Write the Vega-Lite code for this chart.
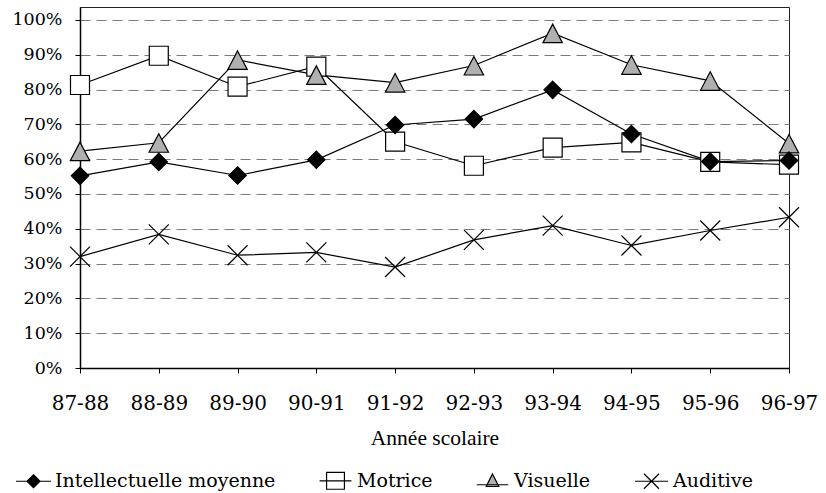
{
  "$schema": "https://vega.github.io/schema/vega-lite/v6.json",
  "width": 709,
  "height": 361,
  "autosize": "none",
  "padding": {"left": 80, "top": 7, "right": 37, "bottom": 125},
  "background": "white",
  "config": {
    "view": {"stroke": "#222222", "strokeWidth": 1},
    "font": "DejaVu Serif",
    "axis": {"labelFont": "DejaVu Serif", "titleFont": "Liberation Serif", "labelColor": "black", "titleColor": "black"},
    "legend": {"labelFont": "DejaVu Serif"}
  },
  "data": {
    "values": [
      {"annee": "87-88", "serie": "Intellectuelle moyenne", "pct": 0.552},
      {"annee": "88-89", "serie": "Intellectuelle moyenne", "pct": 0.592},
      {"annee": "89-90", "serie": "Intellectuelle moyenne", "pct": 0.553},
      {"annee": "90-91", "serie": "Intellectuelle moyenne", "pct": 0.598},
      {"annee": "91-92", "serie": "Intellectuelle moyenne", "pct": 0.698},
      {"annee": "92-93", "serie": "Intellectuelle moyenne", "pct": 0.715},
      {"annee": "93-94", "serie": "Intellectuelle moyenne", "pct": 0.799},
      {"annee": "94-95", "serie": "Intellectuelle moyenne", "pct": 0.672},
      {"annee": "95-96", "serie": "Intellectuelle moyenne", "pct": 0.593},
      {"annee": "96-97", "serie": "Intellectuelle moyenne", "pct": 0.596},
      {"annee": "87-88", "serie": "Motrice", "pct": 0.813},
      {"annee": "88-89", "serie": "Motrice", "pct": 0.897},
      {"annee": "89-90", "serie": "Motrice", "pct": 0.808},
      {"annee": "90-91", "serie": "Motrice", "pct": 0.866},
      {"annee": "91-92", "serie": "Motrice", "pct": 0.650},
      {"annee": "92-93", "serie": "Motrice", "pct": 0.581},
      {"annee": "93-94", "serie": "Motrice", "pct": 0.633},
      {"annee": "94-95", "serie": "Motrice", "pct": 0.648},
      {"annee": "95-96", "serie": "Motrice", "pct": 0.592},
      {"annee": "96-97", "serie": "Motrice", "pct": 0.584},
      {"annee": "87-88", "serie": "Visuelle", "pct": 0.623},
      {"annee": "88-89", "serie": "Visuelle", "pct": 0.647},
      {"annee": "89-90", "serie": "Visuelle", "pct": 0.885},
      {"annee": "90-91", "serie": "Visuelle", "pct": 0.842},
      {"annee": "91-92", "serie": "Visuelle", "pct": 0.820},
      {"annee": "92-93", "serie": "Visuelle", "pct": 0.869},
      {"annee": "93-94", "serie": "Visuelle", "pct": 0.962},
      {"annee": "94-95", "serie": "Visuelle", "pct": 0.871},
      {"annee": "95-96", "serie": "Visuelle", "pct": 0.825},
      {"annee": "96-97", "serie": "Visuelle", "pct": 0.645},
      {"annee": "87-88", "serie": "Auditive", "pct": 0.320},
      {"annee": "88-89", "serie": "Auditive", "pct": 0.384},
      {"annee": "89-90", "serie": "Auditive", "pct": 0.324},
      {"annee": "90-91", "serie": "Auditive", "pct": 0.332},
      {"annee": "91-92", "serie": "Auditive", "pct": 0.290},
      {"annee": "92-93", "serie": "Auditive", "pct": 0.368},
      {"annee": "93-94", "serie": "Auditive", "pct": 0.409},
      {"annee": "94-95", "serie": "Auditive", "pct": 0.352},
      {"annee": "95-96", "serie": "Auditive", "pct": 0.395},
      {"annee": "96-97", "serie": "Auditive", "pct": 0.433}
    ]
  },
  "encoding": {
    "x": {
      "field": "annee", "type": "ordinal",
      "scale": {"type": "point", "padding": 0},
      "axis": {
        "title": "Année scolaire", "titleFontSize": 21.5, "titleFontWeight": "normal", "titlePadding": 14,
        "labelAngle": 0, "labelFontSize": 20, "labelPadding": 20,
        "tickSize": 5, "tickColor": "black", "domainColor": "black", "domainWidth": 1.5,
        "grid": false
      }
    },
    "y": {
      "field": "pct", "type": "quantitative",
      "scale": {"domain": [0, 1.037], "nice": false, "zero": true},
      "axis": {
        "title": null, "format": ".0%",
        "values": [0, 0.1, 0.2, 0.3, 0.4, 0.5, 0.6, 0.7, 0.8, 0.9, 1.0],
        "labelFontSize": 17.5, "labelPadding": 13,
        "tickSize": 5, "tickColor": "black", "domainColor": "black", "domainWidth": 1.5,
        "grid": true, "gridColor": "#7a7a7a", "gridDash": [10, 6], "gridWidth": 1
      }
    }
  },
  "layer": [
    {
      "mark": {"type": "line", "color": "black", "strokeWidth": 1.2},
      "encoding": {"detail": {"field": "serie", "type": "nominal"}}
    },
    {
      "transform": [{"filter": "datum.serie == 'Motrice'"}],
      "mark": {"type": "point", "filled": true, "fill": "white", "stroke": "black", "strokeWidth": 1.2, "size": 400, "opacity": 1,
               "shape": "M-0.95,-0.95L0.95,-0.95L0.95,0.95L-0.95,0.95Z"}
    },
    {
      "transform": [{"filter": "datum.serie == 'Visuelle'"}],
      "mark": {"type": "point", "filled": true, "fill": "#b0b0b0", "stroke": "black", "strokeWidth": 1.2, "size": 400, "opacity": 1,
               "shape": "M0,-0.9L0.97,0.95L-0.97,0.95Z"}
    },
    {
      "transform": [{"filter": "datum.serie == 'Intellectuelle moyenne'"}],
      "mark": {"type": "point", "filled": true, "fill": "black", "stroke": "black", "strokeWidth": 1.2, "size": 400, "opacity": 1,
               "shape": "M0,-0.87L0.87,0L0,0.87L-0.87,0Z"}
    },
    {
      "transform": [{"filter": "datum.serie == 'Auditive'"}],
      "mark": {"type": "point", "filled": false, "stroke": "black", "strokeWidth": 1.2, "size": 400, "opacity": 1,
               "shape": "M-1,-1L1,1M-1,1L1,-1"}
    },
    {
      "transform": [{"filter": "datum.pct < 0"}],
      "mark": {"type": "point", "filled": true, "stroke": "black", "strokeWidth": 1.2, "size": 1225, "opacity": 1},
      "encoding": {
        "shape": {
          "field": "serie", "type": "nominal",
          "scale": {
            "domain": ["Intellectuelle moyenne", "Motrice", "Visuelle", "Auditive"],
            "range": [
              "M-1,0L1,0M0,-0.37L0.37,0L0,0.37L-0.37,0Z",
              "M-0.91,0L0.91,0M-0.51,-0.48L0.51,-0.48L0.51,0.48L-0.51,0.48Z",
              "M-0.9,0.2L0.9,0.2M0,-0.42L0.36,0.3L-0.36,0.3Z",
              "M-0.94,0L0.94,0M-0.43,-0.43L0.43,0.43M-0.43,0.43L0.43,-0.43"
            ]
          },
          "legend": {
            "title": null, "orient": "none", "legendX": -65, "legendY": 455,
            "direction": "horizontal", "columns": 4, "columnPadding": 41,
            "labelFontSize": 19, "labelColor": "black", "labelOffset": 3, "labelLimit": 400,
            "symbolSize": 1225, "symbolStrokeWidth": 1.2, "padding": 0
          }
        },
        "fill": {
          "field": "serie", "type": "nominal",
          "scale": {
            "domain": ["Intellectuelle moyenne", "Motrice", "Visuelle", "Auditive"],
            "range": ["black", "white", "#b0b0b0", "white"]
          },
          "legend": null
        }
      }
    }
  ]
}
